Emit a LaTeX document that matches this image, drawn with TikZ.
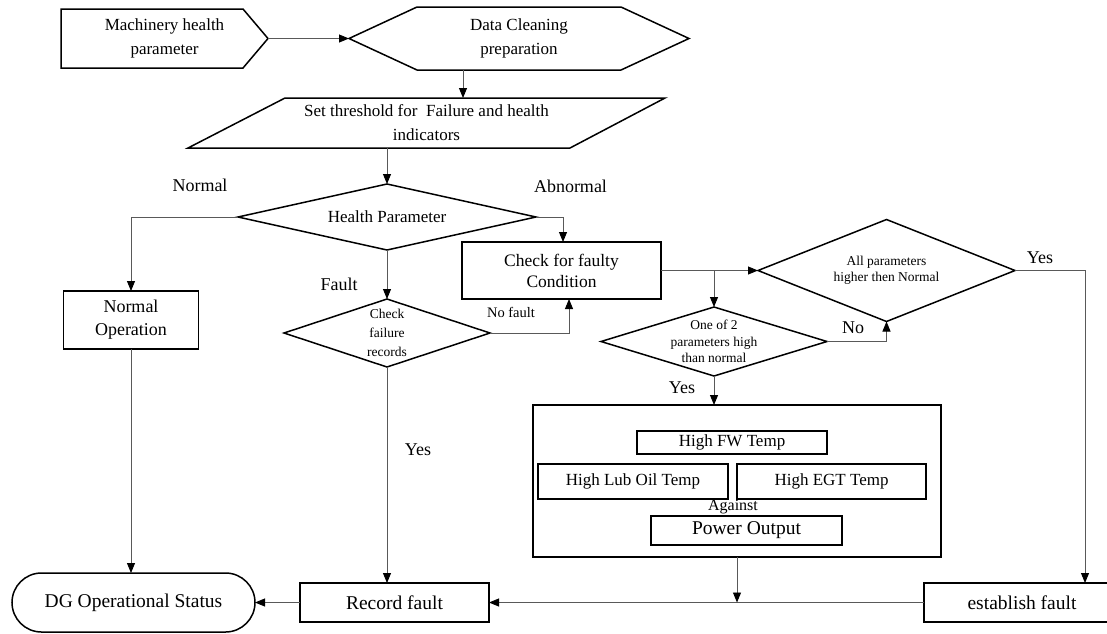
\documentclass[tikz,border=0pt]{standalone}
\usepackage{fontspec}
\setmainfont{Liberation Serif}
\usetikzlibrary{arrows.meta,shapes.misc}
\begin{document}
\begin{tikzpicture}[x=1pt,y=-1pt,
  shp/.style={shape=rectangle, draw=none, inner sep=0pt, outer sep=0pt, align=center,
              font=\fontsize{17}{24}\selectfont},
  rbox/.style={shp, draw=black, line width=1.5pt},
  frame/.style={draw=black, line width=1.5pt, line join=miter},
  small/.style={font=\fontsize{13.5}{16.5}\selectfont},
  large/.style={font=\fontsize{19.5}{24}\selectfont},
  lbl/.style={inner sep=0pt, outer sep=0pt, font=\fontsize{18}{22}\selectfont},
  link/.style={draw=black!65, line width=0.9pt},
  arr/.style={link, -{Triangle[length=10pt,width=8pt,color=black]}},
]
\useasboundingbox (0,0) rectangle (1107,633);
\fill[white] (0,0) rectangle (1107,633);

% ---- top row: input, cleaning, thresholds
\node[shp, minimum width=207pt, minimum height=59pt] (mach) at (164.5,38.5) {Machinery health\\parameter};
\draw[frame] (mach.north west) -- ([xshift=-25pt]mach.north east) -- (mach.east)
  -- ([xshift=-25pt]mach.south east) -- (mach.south west) -- cycle;

\node[shp, minimum width=340pt, minimum height=63pt] (dc) at (519,38.5) {Data Cleaning\\preparation};
\draw[frame] (dc.west) -- ([xshift=68pt]dc.north west) -- ([xshift=-68pt]dc.north east) -- (dc.east)
  -- ([xshift=-68pt]dc.south east) -- ([xshift=68pt]dc.south west) -- cycle;

\node[shp, minimum width=477pt, minimum height=50pt] (pg) at (426.5,123) {Set threshold for\ \ Failure and health\\indicators};
\draw[frame] (pg.south west) -- ([xshift=-95pt]pg.south east) -- (pg.north east)
  -- ([xshift=97pt]pg.north west) -- cycle;

% ---- decision on the health parameter
\node[shp, minimum width=298pt, minimum height=66pt] (hp) at (387,217) {Health Parameter};
\draw[frame] (hp.north) -- (hp.east) -- (hp.south) -- (hp.west) -- cycle;

\node[rbox, minimum width=135pt, minimum height=58pt, font=\fontsize{18}{23}\selectfont] (no) at (131,320) {Normal\\Operation};

\node[shp, small, minimum width=206pt, minimum height=68pt, font=\fontsize{13.5}{19}\selectfont] (cf) at (387,333) {Check\\failure\\records};
\draw[frame] (cf.north) -- (cf.east) -- (cf.south) -- (cf.west) -- cycle;

\node[rbox, minimum width=199pt, minimum height=57pt, font=\fontsize{17.5}{21}\selectfont] (cb) at (561.5,270.5) {Check for faulty\\Condition};

% ---- right-hand checks
\node[shp, small, minimum width=257pt, minimum height=102pt] (ap) at (886.5,270.5) {All parameters\\higher then Normal};
\draw[frame] (ap.north) -- (ap.east) -- (ap.south) -- (ap.west) -- cycle;

\node[shp, small, minimum width=226pt, minimum height=69pt] (oo) at (714,341.5) {One of 2\\parameters high\\than normal};
\draw[frame] (oo.north) -- (oo.east) -- (oo.south) -- (oo.west) -- cycle;

% ---- parameter group
\node[rbox, minimum width=408pt, minimum height=152pt] (bb) at (737,481) {};
\node[rbox, minimum width=190pt, minimum height=23pt] (fw) at (732,442.5) {High FW Temp};
\node[rbox, minimum width=190pt, minimum height=35pt] (lub) at (633,481.5) {High Lub Oil Temp};
\node[rbox, minimum width=189pt, minimum height=35pt] (egt) at (831.5,481.5) {High EGT Temp};
\node[lbl, font=\fontsize{16}{18}\selectfont] (ag) at (733,507) {Against};
\node[rbox, large, minimum width=191pt, minimum height=29pt] (po) at (746.5,530.5) {Power Output};

% ---- bottom row
\node[shape=rounded rectangle, draw=black, line width=1.5pt, inner sep=0pt, outer sep=0pt, large,
      minimum width=243pt, minimum height=59pt] (dg) at (133.5,602.5) {DG Operational Status};
\node[rbox, large, minimum width=189pt, minimum height=39pt] (rf) at (394.5,602.5) {Record fault};
\node[rbox, large, minimum width=196pt, minimum height=39pt] (ef) at (1022,602.5) {establish fault};

% ---- branch labels
\node[lbl] (lnormal) at (200,185) {Normal};
\node[lbl, anchor=west] (labn) at (534,186) {Abnormal};
\node[lbl] (lfault) at (339,284) {Fault};
\node[lbl, font=\fontsize{14.5}{17}\selectfont] (lnof) at (511,312) {No fault};
\node[lbl] (lyes1) at (418,450) {Yes};
\node[lbl] (lyes2) at (682,388) {Yes};
\node[lbl] (lno) at (853,328) {No};
\node[lbl] (lyes3) at (1040,258) {Yes};

% ---- connectors
\draw[arr] (mach.east) -- (dc.west);
\draw[arr] ([xshift=-56pt]dc.south) -- ([xshift=-56pt]dc.south |- pg.north);
\draw[arr] (pg.south -| hp.north) -- (hp.north);
\draw[arr] (hp.west) -| (no.north);
\draw[arr] (no.south) -- (no.south |- dg.north);
\draw[arr] (hp.south) -- (cf.north);
\draw[arr] (hp.east) -| ([xshift=1.5pt]cb.north);
\draw[arr] (cf.east) -| ([xshift=7.5pt]cb.south);
\draw[arr] (cf.south) -- (cf.south |- rf.north);
\draw[arr] (rf.west) -- (dg.east);
\draw[arr] (cb.east) -- (ap.west);
\coordinate (split) at (cb.east -| oo.north);
\draw[arr] (split) -- (oo.north);
\draw[arr] (oo.east) -| (ap.south);
\draw[arr] (oo.south) -- (oo.south |- bb.north);
\draw[arr] (ap.east) -| ([xshift=63pt]ef.north);
\draw[arr] (ef.west) -- (rf.east);
\draw[arr] (bb.south) -- (bb.south |- rf.east);
\end{tikzpicture}
\end{document}
